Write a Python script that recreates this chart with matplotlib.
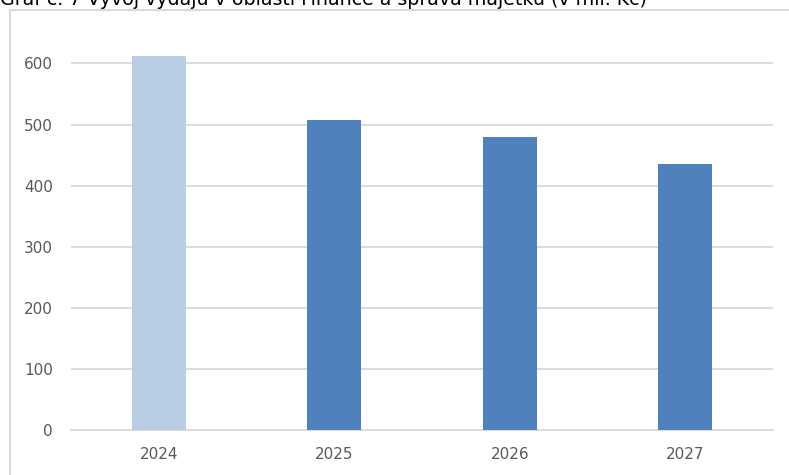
import matplotlib
matplotlib.use("Agg")
import matplotlib.pyplot as plt
from matplotlib.lines import Line2D

plt.rcParams["font.family"] = ["DejaVu Sans"]

years = ["2024", "2025", "2026", "2027"]
values = [612, 508, 479, 436]
bar_colors = ["#b9cde5", "#4f81bd", "#4f81bd", "#4f81bd"]
title = "Graf č. 7 Vývoj výdajů v oblasti Finance a správa majetku (v mil. Kč)"

W, H = 789, 475
fig = plt.figure(figsize=(W / 100, H / 100), dpi=100)

# plot area in pixels: x 71..773, y 30..430
ax = fig.add_axes([71 / W, 1 - 430 / H, (773 - 71) / W, 400 / H])

x = range(len(years))
ax.bar(x, values, width=0.31, color=bar_colors, zorder=3)
ax.set_xlim(-0.5, len(years) - 0.5)
ax.set_ylim(0, 654.7)
ax.set_yticks([0, 100, 200, 300, 400, 500, 600])
ax.set_xticks(list(x))
ax.set_xticklabels(years)

ax.yaxis.grid(True, color="#d9d9d9", linewidth=1.3, zorder=0)
ax.tick_params(axis="both", length=0, labelsize=11, labelcolor="#595959")
ax.tick_params(axis="y", pad=13)
ax.tick_params(axis="x", pad=12)
for side in ["top", "right", "left"]:
    ax.spines[side].set_visible(False)
ax.spines["bottom"].set_color("#d9d9d9")
ax.spines["bottom"].set_linewidth(1.3)

# outer chart frame (only left and top edges show in the crop)
fig.add_artist(Line2D([9.5 / W, 9.5 / W], [1 - 9.5 / H, 0], color="#d9d9d9", lw=1.5))
fig.add_artist(Line2D([9.5 / W, 1], [1 - 9.5 / H, 1 - 9.5 / H], color="#d9d9d9", lw=1.5))

# title sits partly above the top edge, as in the source crop
fig.text(0, 1 - 5 / H, title, fontsize=13.7, color="black", va="baseline", ha="left")

fig.savefig("out.png", dpi=100)
